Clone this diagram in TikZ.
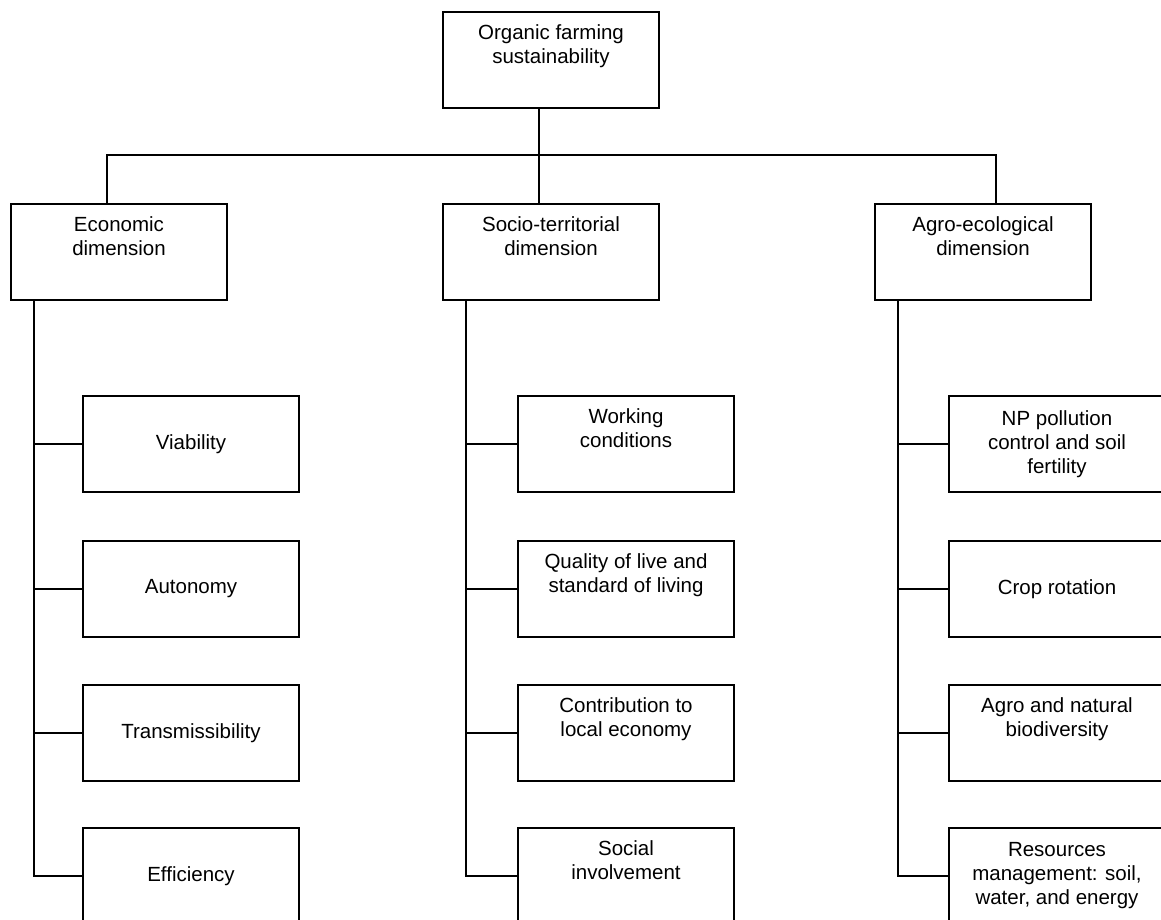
\documentclass[tikz,border=0pt]{standalone}
\usepackage{fontspec}
\setmainfont{Liberation Sans}
\begin{document}
\begin{tikzpicture}[x=1pt,y=-1pt,
  box/.style={draw=black, line width=1.9pt, fill=white, minimum width=216pt, minimum height=96pt,
    inner sep=0pt, align=center, font=\fontsize{20.5}{24}\selectfont},
  link/.style={draw=black, line width=1.9pt}]
\useasboundingbox (0,0) rectangle (1161,920);
\clip (0,0) rectangle (1161,920);
\fill[white] (0,0) rectangle (1161,920);
% top
\node[box] (top) at (551,60) {Organic farming\\sustainability\\\strut};
% dimensions
\node[box] (econ) at (119,252) {Economic\\dimension\\\strut};
\node[box] (socio) at (551,252) {Socio-territorial\\dimension\\\strut};
\node[box] (agro) at (983,252) {Agro-ecological\\dimension\\\strut};
% economic
\node[box] (e1) at (191,444) {Viability};
\node[box] (e2) at (191,589) {Autonomy};
\node[box] (e3) at (191,733) {Transmissibility};
\node[box] (e4) at (191,876) {Efficiency};
% socio
\node[box] (s1) at (626,444) {Working\\conditions\\\strut};
\node[box] (s2) at (626,589) {Quality of live and\\standard of living\\\strut};
\node[box] (s3) at (626,733) {Contribution to\\local economy\\\strut};
\node[box] (s4) at (626,876) {Social\\involvement\\\strut};
% agro
\node[box] (a1) at (1057,444) {NP pollution\\control and soil\\fertility};
\node[box] (a2) at (1057,589) {Crop rotation};
\node[box] (a3) at (1057,733) {Agro and natural\\biodiversity\\\strut};
\node[box] (a4) at (1057,876) {Resources\\management: soil,\\water, and energy};
% connectors
\draw[link] ([xshift=-12pt]top.south) -- ([xshift=-12pt]socio.north);
\draw[link] ([xshift=-12pt]econ.north) -- ++(0,-48) -| ([xshift=13pt]agro.north);
\foreach \d/\c in {econ/e, socio/s, agro/a}{
  \foreach \i in {1,2,3,4}{
    \draw[link] ([xshift=24pt]\d.south west) |- (\c\i.west);
  }
}
\end{tikzpicture}
\end{document}
